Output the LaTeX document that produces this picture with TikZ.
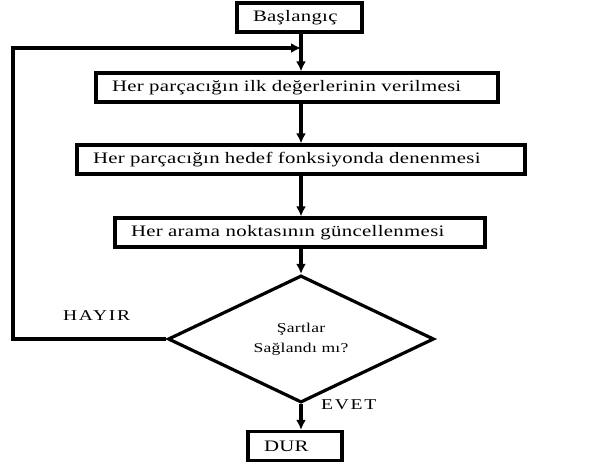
\documentclass[tikz,border=0pt]{standalone}
\usepackage{fontspec}
\setmainfont{Liberation Serif}[FakeStretch=1.3, LetterSpace=2]
\newfontfamily\etiketfont{Liberation Serif}[FakeStretch=1.3, LetterSpace=12]
\usetikzlibrary{positioning, shapes.geometric, arrows.meta}

\begin{document}
\begin{tikzpicture}[x=1pt, y=-1pt,
    every node/.style = { draw, line width = 3.2pt, align = center, inner sep = 0pt, font = \fontsize{16}{18}\selectfont },
    adim/.style = { minimum height = 29pt, minimum width = #1, text width = \dimexpr#1-32pt\relax, inner xsep = 16pt, align = left },
    karar/.style = { shape = diamond, minimum width = 266pt, minimum height = 99pt, font = \fontsize{13.5}{20}\selectfont },
    etiket/.style = { draw = none, font = \etiketfont\fontsize{15}{17}\selectfont },
    ok/.style = { line width = 3.2pt, -{Latex[length=10pt, width=10pt]} }]
    \useasboundingbox (0,0) rectangle (609,466);

    \node [adim = 125pt] (basla) at (299.5,17.5) {Başlangıç};
    \node [adim = 402pt] (ilk) at (297,87.5) {Her parçacığın ilk değerlerinin verilmesi};
    \node [adim = 448pt] (dene) at (301,159.5) {Her parçacığın hedef fonksiyonda denenmesi};
    \node [adim = 370pt] (guncel) at (300,232.5) {Her arama noktasının güncellenmesi};
    \node [karar] (sart) at (301,339) { Şartlar \\ Sağlandı mı? };
    \node [adim = 94pt] (dur) at (295,446) {DUR};

    \node [etiket] (hayir) at (100,316) { HAYIR };
    \node [etiket] (evet) at (352,405) { EVET };

    \coordinate (dugum) at (301,48);
    \coordinate (solalt) at (13,339);
    \coordinate (solust) at (13,48);

    \draw [line width = 3.2pt] (basla.south -| dugum) -- (dugum);
    \draw [ok] (dugum) -- (ilk.north -| dugum);
    \draw [ok] (ilk.south -| dugum) -- (dene.north -| dugum);
    \draw [ok] (dene.south -| dugum) -- (guncel.north -| dugum);
    \draw [ok] (guncel.south -| dugum) -- (sart.north);
    \draw [ok] (sart.south) -- (dur.north -| sart.south);
    \draw [ok, line join = miter] (sart.west) -- (solalt) -- (solust) -- (dugum);

\end{tikzpicture}
\end{document}
